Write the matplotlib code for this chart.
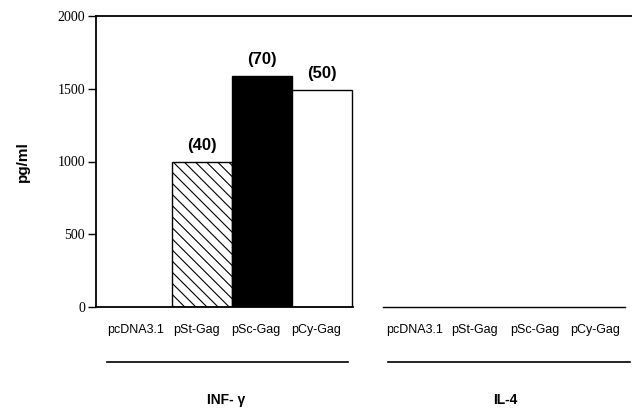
import matplotlib
matplotlib.use("Agg")
import matplotlib.pyplot as plt

# data
constructs = ["pcDNA3.1", "pSt-Gag", "pSc-Gag", "pCy-Gag"]
inf_gamma = [0, 1000, 1590, 1490]
il4 = [0, 0, 0, 0]
mice_counts = ["", "(40)", "(70)", "(50)"]
groups = ["INF- γ", "IL-4"]
yticks = [0, 500, 1000, 1500, 2000]

faces = ["white", "white", "black", "white"]
hatches = [None, "\\\\\\", None, None]

plt.rcParams["hatch.linewidth"] = 0.8

offset = 4.65  # second group shift (in bar widths)
x_inf = [i for i in range(len(constructs))]
x_il4 = [i + offset for i in range(len(constructs))]

fig = plt.figure(figsize=(6.32, 4.09), dpi=100)
ax = fig.add_axes([96 / 632, 1 - 307 / 409, 1 - 96 / 632, 291 / 409])

for xs, vals in [(x_inf, inf_gamma), (x_il4, il4)]:
    for x, v, fc, h in zip(xs, vals, faces, hatches):
        if v > 0:
            ax.bar(x, v, width=1.0, color=fc, edgecolor="black",
                   linewidth=1.0, hatch=h)

for x, v, lab in zip(x_inf, inf_gamma, mice_counts):
    if lab:
        ax.text(x, v + 60, lab, ha="center", va="bottom",
                fontsize=12, fontweight="bold", family="Liberation Sans")

ax.set_xlim(-0.767, 8.17)
ax.set_ylim(0, 2000)
ax.set_yticks(yticks)
ax.set_yticklabels([str(t) for t in yticks], family="Liberation Serif",
                   fontsize=10)
ax.tick_params(axis="y", direction="out", length=6, width=1, pad=2)
ax.set_xticks([])

ax.spines["right"].set_visible(False)
ax.spines["bottom"].set_visible(False)
ax.spines["top"].set_linewidth(1.3)
ax.spines["left"].set_linewidth(1.3)

# baseline segments for each group
ax.plot([-0.767, 3.52], [0, 0], color="black", lw=1.3, clip_on=False)
ax.plot([4.02, 8.05], [0, 0], color="black", lw=1.0, clip_on=False)

ax.set_ylabel("pg/ml", fontsize=11, fontweight="bold",
              family="Liberation Sans", labelpad=20)

# category labels, underline and group names below the axis
trans = ax.get_xaxis_transform()
for xs, g, (l0, l1) in [(x_inf, groups[0], (-0.58, 3.43)),
                        (x_il4, groups[1], (4.1, 8.13))]:
    for x, c in zip(xs, constructs):
        ax.text(x - 0.1, -0.08, c, transform=trans, ha="center", va="center",
                fontsize=9, family="Liberation Sans")
    ax.plot([l0, l1], [-0.19, -0.19], transform=trans, color="black",
            lw=1.2, clip_on=False)
    mid = (xs[0] + xs[-1]) / 2
    ax.text(mid - 0.1, -0.32, g, transform=trans, ha="center", va="center",
            fontsize=10, fontweight="bold", family=["Liberation Sans", "DejaVu Sans"])

fig.savefig("out.png", dpi=100)
